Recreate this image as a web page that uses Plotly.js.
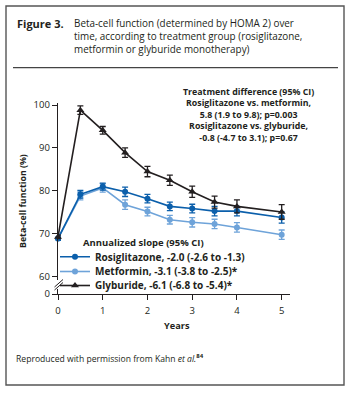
<!DOCTYPE html>
<html><head><meta charset="utf-8">
<script src="https://cdn.plot.ly/plotly-3.0.1.min.js"></script>
<style>html,body{margin:0;padding:0;background:#fff;}#chart{width:353px;height:394px;}</style>
</head><body><div id="chart"></div>
<script>
// ---- data ----
const years = [0, 0.5, 1, 1.5, 2, 2.5, 3, 3.5, 4, 5];
const rosiglitazone = [68.9, 79.2, 81.0, 79.8, 78.2, 76.4, 75.9, 75.3, 75.3, 73.8];
const rosiglitazoneErr = [0.4, 0.9, 0.8, 1.1, 1.0, 1.0, 1.0, 1.1, 1.1, 1.3];
const metformin = [68.9, 78.8, 80.7, 76.8, 75.2, 73.3, 72.7, 72.3, 71.5, 69.8];
const metforminErr = [0.4, 0.9, 1.0, 1.1, 1.0, 1.0, 1.1, 1.1, 1.1, 1.1];
const glyburide = [69.3, 98.8, 94.1, 88.9, 84.5, 82.5, 79.8, 77.4, 76.4, 75.1];
const glyburideErr = [0.4, 1.0, 0.9, 1.1, 1.2, 1.2, 1.3, 1.4, 1.5, 1.7];
const seriesNames = ['Rosiglitazone, -2.0 (-2.6 to -1.3)', 'Metformin, -3.1 (-3.8 to -2.5)*', 'Glyburide, -6.1 (-6.8 to -5.4)*'];
const yTickVals = [56, 60, 70, 80, 90, 100];
const yTickText = ['0', '60', '70', '80', '90', '100'];
const xTickVals = [0, 1, 2, 3, 4, 5];

// ---- geometry helpers (pixel -> paper) ----
const W = 353, H = 394, mL = 58, mR = 63, mT = 103, mB = 100;
const pw = W - mL - mR, ph = H - mT - mB;
const px = v => (v - mL) / pw;
const py = v => (H - mB - v) / ph;

const FONT = 'Open Sans, Noto Sans, sans-serif';
const TXT = '#231f20';
const DARK = '#0b5fab', LIGHT = '#6ea3d9', BLACK = '#231f20';

function series(y, err, name, color, symbol, size, legendId) {
  return {
    x: years, y: y, name: name, type: 'scatter', mode: 'lines+markers',
    line: {color: color, width: 1.6},
    marker: {color: color, symbol: symbol, size: size},
    error_y: {type: 'data', array: err, visible: true, color: color, thickness: 1.3, width: 3},
    legend: legendId, cliponaxis: false
  };
}
const traces = [
  series(metformin, metforminErr, seriesNames[1], LIGHT, 'circle', 6, 'legend2'),
  series(rosiglitazone, rosiglitazoneErr, seriesNames[0], DARK, 'circle', 6, 'legend'),
  series(glyburide, glyburideErr, seriesNames[2], BLACK, 'triangle-up', 7, 'legend3')
];

function legendAt(yPix) {
  return {x: px(55), y: py(yPix), xanchor: 'left', yanchor: 'middle', bgcolor: 'rgba(0,0,0,0)',
    borderwidth: 0, itemwidth: 30, font: {family: FONT, size: 10, weight: 'bold', color: TXT}};
}

const layout = {
  width: W, height: H,
  margin: {l: mL, r: mR, t: mT, b: mB, pad: 0},
  paper_bgcolor: '#fff', plot_bgcolor: '#fff',
  font: {family: FONT, color: TXT, size: 9},
  showlegend: true,
  legend: legendAt(256.7),
  legend2: legendAt(271.5),
  legend3: legendAt(285.5),
  xaxis: {range: [0, 5.186], tickvals: xTickVals, ticks: 'outside', ticklen: 5, tickwidth: 1,
    tickcolor: TXT, showline: true, linecolor: TXT, linewidth: 1.2, showgrid: false, zeroline: false,
    ticklabelstandoff: 2, tickfont: {size: 9.5, color: TXT}},
  yaxis: {range: [56, 100.47], tickvals: yTickVals, ticktext: yTickText, ticks: 'outside', ticklen: 5,
    tickwidth: 1, tickcolor: TXT, showline: true, linecolor: TXT, linewidth: 1.2, showgrid: false,
    zeroline: false, tickfont: {size: 9.5, color: TXT}},
  shapes: [
    {type: 'rect', xref: 'paper', yref: 'paper', x0: px(6), x1: px(344), y0: py(6), y1: py(385),
      line: {color: '#555', width: 1.4}, fillcolor: 'rgba(0,0,0,0)', layer: 'below'},
    {type: 'line', xref: 'paper', yref: 'paper', x0: px(13), x1: px(338), y0: py(67.7), y1: py(67.7),
      line: {color: '#444', width: 1.2}},
    {type: 'rect', xref: 'paper', yref: 'paper', x0: px(55), x1: px(61), y0: py(289), y1: py(280),
      line: {width: 0}, fillcolor: '#fff', layer: 'above'},
    {type: 'line', xref: 'paper', yref: 'paper', x0: px(54.5), x1: px(63), y0: py(287), y1: py(279.5),
      line: {color: TXT, width: 1}, layer: 'above'},
    {type: 'line', xref: 'paper', yref: 'paper', x0: px(54.5), x1: px(63), y0: py(290), y1: py(282.5),
      line: {color: TXT, width: 1}, layer: 'above'}
  ],
  annotations: [
    {xref: 'paper', yref: 'paper', x: px(15), y: py(23), xanchor: 'left', yanchor: 'middle', showarrow: false,
      text: '<b>Figure 3.</b>', font: {size: 11, color: TXT}},
    {xref: 'paper', yref: 'paper', x: px(72), y: py(14), xanchor: 'left', yanchor: 'top', showarrow: false, align: 'left',
      text: 'Beta-cell function (determined by HOMA 2) over<br>time, according to treatment group (rosiglitazone,<br>metformin or glyburide monotherapy)',
      font: {size: 9.9, color: TXT}},
    {xref: 'paper', yref: 'paper', x: px(248), y: py(114.7), xanchor: 'center', yanchor: 'middle', showarrow: false, align: 'center',
      text: '<b>Treatment difference (95% CI)<br>Rosiglitazone vs. metformin,<br>5.8 (1.9 to 9.8); p=0.003<br>Rosiglitazone vs. glyburide,<br>-0.8 (-4.7 to 3.1); p=0.67</b>',
      font: {size: 8.8, color: TXT}},
    {xref: 'paper', yref: 'paper', x: px(81), y: py(242.3), xanchor: 'left', yanchor: 'middle', showarrow: false,
      text: '<b>Annualized slope (95% CI)</b>', font: {size: 9.5, color: TXT}},
    {xref: 'paper', yref: 'paper', x: px(23), y: py(201), xanchor: 'center', yanchor: 'middle', showarrow: false,
      textangle: -90, text: '<b>Beta-cell function (%)</b>', font: {size: 8.8, color: TXT}},
    {xref: 'paper', yref: 'paper', x: px(177), y: py(325), xanchor: 'center', yanchor: 'middle', showarrow: false,
      text: '<b>Years</b>', font: {size: 9.2, color: TXT}},
    {xref: 'paper', yref: 'paper', x: px(14), y: py(358), xanchor: 'left', yanchor: 'middle', showarrow: false,
      text: 'Reproduced with permission from Kahn <i>et al.</i><sup><b>84</b></sup>', font: {size: 8.6, color: TXT}}
  ]
};

Plotly.newPlot('chart', traces, layout, {displayModeBar: false, staticPlot: true});
</script>
</body></html>
